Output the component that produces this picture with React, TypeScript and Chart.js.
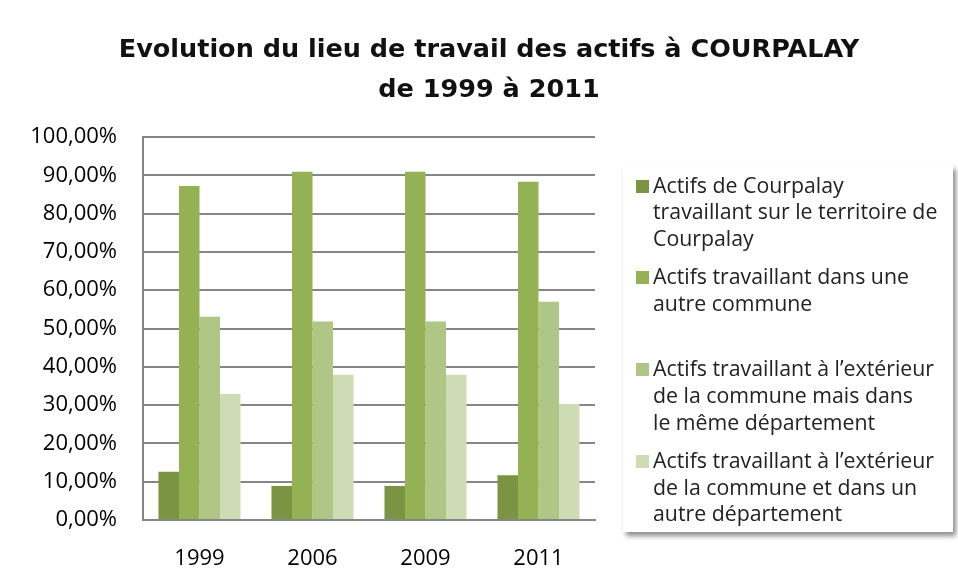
import React, { useEffect, useRef } from 'react';
import { Chart, registerables } from 'chart.js';

Chart.register(...registerables);

const categories = ['1999', '2006', '2009', '2011'];

const seriesLabels = [
  'Actifs de Courpalay\ntravaillant sur le territoire de\nCourpalay',
  'Actifs travaillant dans une\nautre commune',
  'Actifs travaillant à l\u2019extérieur\nde la commune mais dans\nle même département',
  'Actifs travaillant à l\u2019extérieur\nde la commune et dans un\nautre département',
];

const surTerritoire = [12.6, 8.9, 8.9, 11.7];
const autreCommune = [87.2, 90.9, 90.9, 88.3];
const memeDepartement = [53.1, 51.8, 51.8, 57.0];
const autreDepartement = [32.9, 37.9, 37.9, 30.3];

const seriesColors = ['#7A9443', '#94B153', '#AFC687', '#CEDCB6'];

const yTickLabels = [
  '0,00%', '10,00%', '20,00%', '30,00%', '40,00%', '50,00%',
  '60,00%', '70,00%', '80,00%', '90,00%', '100,00%',
];

const titleLines = ['Evolution du lieu de travail des actifs à COURPALAY', 'de 1999 à 2011'];

const seriesValues = [surTerritoire, autreCommune, memeDepartement, autreDepartement];

const TITLE_SIZE = 25.5;

export default function App() {
  const canvasRef = useRef<HTMLCanvasElement | null>(null);

  useEffect(() => {
    const canvas = canvasRef.current;
    if (!canvas) return;
    const chart = new Chart(canvas, {
      type: 'bar',
      data: {
        labels: categories,
        datasets: seriesValues.map((vals, i) => ({
          label: seriesLabels[i].replace(/\n/g, ' '),
          data: vals,
          backgroundColor: seriesColors[i],
          borderWidth: 0,
          yAxisID: 'y',
          categoryPercentage: 0.726,
          barPercentage: 1,
        })),
      },
      options: {
        responsive: false,
        animation: false,
        layout: { padding: { left: 20, right: 0, top: 0, bottom: 0 } },
        plugins: {
          legend: { display: false },
          tooltip: { enabled: false },
          title: {
            display: true,
            text: titleLines,
            color: '#111',
            font: { family: 'DejaVu Sans', size: TITLE_SIZE, weight: 'bold', lineHeight: 40 / TITLE_SIZE },
            padding: { top: 30, bottom: 27 },
          },
        },
        scales: {
          x: {
            grid: { display: false, drawTicks: false },
            border: { display: true, color: '#868686', width: 2 },
            ticks: {
              color: '#000',
              font: { family: 'Open Sans', size: 22 },
              padding: 26,
            },
            afterFit: (s: any) => { s.height = 63; },
          },
          y: {
            position: 'left',
            min: 0,
            max: 100,
            grid: { color: '#868686', lineWidth: 2, drawTicks: false },
            border: { display: true, color: '#868686', width: 2 },
            ticks: {
              stepSize: 10,
              color: '#000',
              font: { family: 'Open Sans', size: 22 },
              padding: 26,
              callback: (_v: any, idx: number) => yTickLabels[idx],
            },
            afterFit: (s: any) => { s.width = 123; },
          },
          legendSpace: {
            type: 'linear',
            position: 'right',
            display: true,
            grid: { display: false, drawTicks: false },
            border: { display: false },
            ticks: { display: false },
            afterFit: (s: any) => { s.width = 363; },
          },
        },
      },
    } as any);
    return () => chart.destroy();
  }, []);

  return (
    <div style={{ position: 'fixed', left: 0, top: 0, width: 958, height: 583, background: '#fff' }}>
      <canvas ref={canvasRef} width={958} height={583} style={{ display: 'block' }} />
      <div
        style={{
          position: 'absolute',
          left: 623,
          top: 165,
          width: 330,
          height: 367,
          background: '#fff',
          boxShadow: '3px 4px 5px rgba(0,0,0,0.45)',
          fontFamily: 'Open Sans',
          fontSize: 21.3,
          color: '#222',
        }}
      >
        {seriesLabels.map((lab, i) => (
          <div key={i} style={{ position: 'absolute', left: 0, top: 6.7 + i * 91.7, width: 330 }}>
            <div
              style={{
                position: 'absolute',
                left: 13,
                top: 8,
                width: 13,
                height: 13,
                background: seriesColors[i],
              }}
            />
            <div style={{ position: 'absolute', left: 30, top: 0, whiteSpace: 'pre', lineHeight: '26.7px' }}>{lab}</div>
          </div>
        ))}
      </div>
    </div>
  );
}
